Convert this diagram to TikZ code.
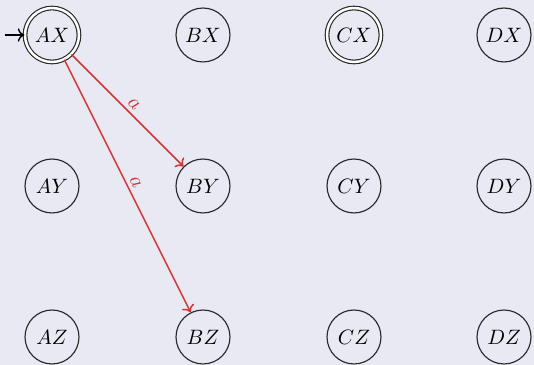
\documentclass[tikz,border=0pt]{standalone}
\usetikzlibrary{arrows.meta}
\definecolor{bg}{RGB}{233,233,243}
\definecolor{edgered}{RGB}{204,54,54}
\definecolor{ink}{RGB}{40,40,40}
\begin{document}
\begin{tikzpicture}[x=0.5263pt,y=-0.5263pt,
  every node/.style={font=\fontsize{11}{13}\selectfont},
  state/.style={circle,draw=ink,line width=0.6pt,minimum size=28.4pt,inner sep=0pt},
  accept/.style={state,double,double distance=1.3pt},
  trans/.style={draw=edgered,line width=0.8pt,-{To[length=3.5pt,width=7pt]}},
  lab/.style={text=edgered,sloped,above,midway,inner sep=2pt}]
\fill[bg] (0,0) rectangle (534,365);
\useasboundingbox (0,0) rectangle (534,365);
\node[accept] (AX) at (52,35) {$AX$};
\node[state] (BX) at (203,35) {$BX$};
\node[accept] (CX) at (354,35) {$CX$};
\node[state] (DX) at (504,35) {$DX$};
\node[state] (AY) at (52,186) {$AY$};
\node[state] (BY) at (203,186) {$BY$};
\node[state] (CY) at (354,186) {$CY$};
\node[state] (DY) at (504,186) {$DY$};
\node[state] (AZ) at (52,337) {$AZ$};
\node[state] (BZ) at (203,337) {$BZ$};
\node[state] (CZ) at (354,337) {$CZ$};
\node[state] (DZ) at (504,337) {$DZ$};
\coordinate (init) at (5,35);
\draw[line width=0.7pt,-{To[length=3.5pt,width=7pt]}] (init) -- (AX.west);
\draw[trans] (AX) -- node[lab] {$a$} (BY);
\draw[trans] (AX) -- node[lab] {$a$} (BZ);
\end{tikzpicture}
\end{document}
